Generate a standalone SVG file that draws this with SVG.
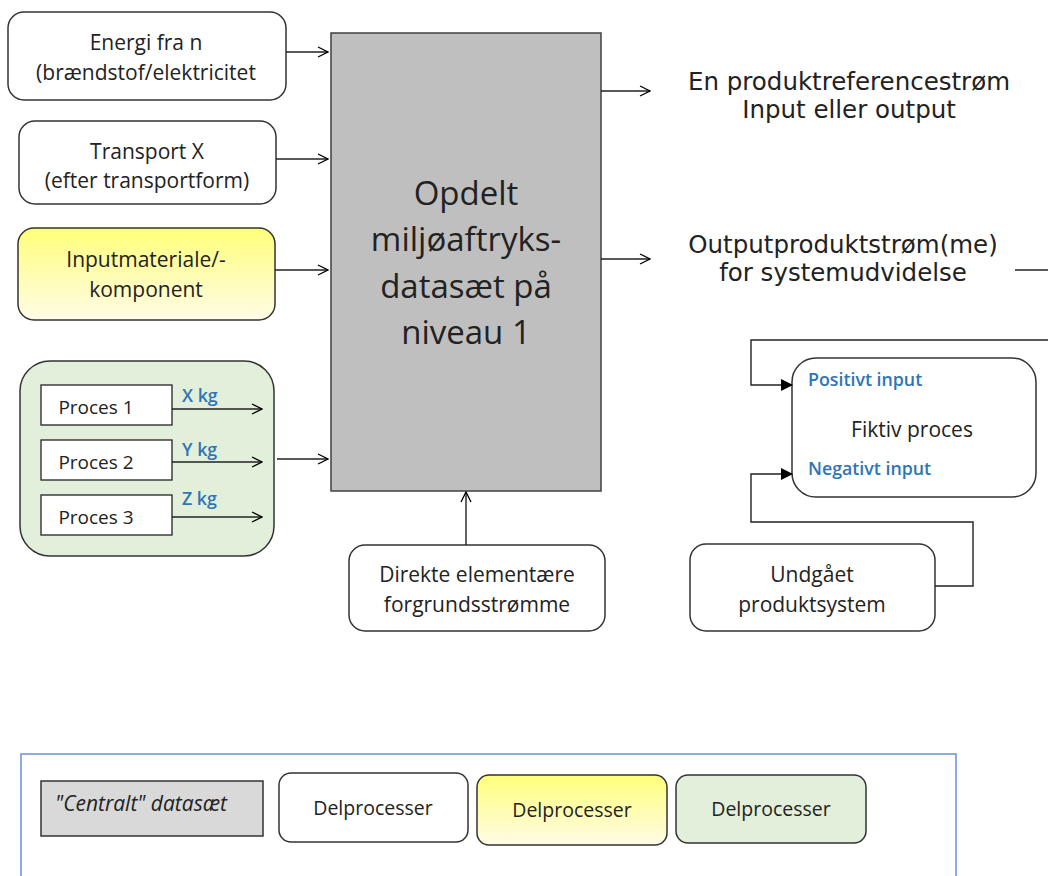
<svg xmlns="http://www.w3.org/2000/svg" width="1048" height="876" viewBox="0 0 1048 876">
<defs>
<linearGradient id="yel" x1="0" y1="0" x2="0" y2="1"><stop offset="0" stop-color="#ffff7a"/><stop offset="1" stop-color="#fffbe6"/></linearGradient>
<marker id="open" markerWidth="12" markerHeight="12" refX="11" refY="6" orient="auto" markerUnits="userSpaceOnUse"><path d="M1,1 L11,6 L1,11" fill="none" stroke="#000" stroke-width="1.3"/></marker>
<marker id="solid" markerWidth="12" markerHeight="12" refX="11" refY="6" orient="auto" markerUnits="userSpaceOnUse"><path d="M0,0 L12,6 L0,12 z" fill="#000"/></marker>
<style>
.box{fill:#fff;stroke:#333;stroke-width:1.5}
.t{font-family:"Open Sans","Liberation Sans",Arial,sans-serif;font-size:21px;fill:#222;text-anchor:middle}
.v{font-family:"DejaVu Sans",Verdana,sans-serif;font-size:24.5px;fill:#222;text-anchor:middle}
.b{font-family:"Open Sans","Liberation Sans",Arial,sans-serif;font-size:17.8px;font-weight:600;fill:#2e75b6}
.c{fill:none;stroke:#222;stroke-width:1.4}
</style>
</defs>
<rect width="1048" height="876" fill="#fff"/>
<g id="main"><rect x="331" y="33" width="270" height="458" fill="#bfbfbf" stroke="#404040" stroke-width="1.5"/>
<text class="t" style="font-size:33px" x="466" y="205">Opdelt</text>
<text class="t" style="font-size:33px" x="466" y="251">miljøaftryks-</text>
<text class="t" style="font-size:33px" x="466" y="298">datasæt på</text>
<text class="t" style="font-size:33px" x="466" y="344">niveau 1</text></g>
<g id="energi"><rect class="box" x="8" y="12" width="278" height="88" rx="16"/>
<text class="t" x="146" y="50">Energi fra n</text><text class="t" x="146" y="80">(brændstof/elektricitet</text></g>
<g id="transport"><rect class="box" x="19" y="121" width="257" height="83" rx="16"/>
<text class="t" x="147" y="159">Transport X</text><text class="t" x="147" y="188">(efter transportform)</text></g>
<g id="input"><rect x="18" y="228" width="257" height="92" rx="16" fill="url(#yel)" stroke="#333" stroke-width="1.5"/>
<text class="t" x="146" y="267">Inputmateriale/-</text><text class="t" x="146" y="297">komponent</text></g>
<g id="procgroup"><rect x="20" y="361" width="254" height="195" rx="30" fill="#e2efda" stroke="#333" stroke-width="1.5"/>
<rect x="41" y="385" width="131" height="40" fill="#fff" stroke="#333" stroke-width="1.4"/><text class="t" style="font-size:19px" x="96" y="414">Proces 1</text>
<rect x="41" y="440" width="131" height="40" fill="#fff" stroke="#333" stroke-width="1.4"/><text class="t" style="font-size:19px" x="96" y="469">Proces 2</text>
<rect x="41" y="495" width="131" height="40" fill="#fff" stroke="#333" stroke-width="1.4"/><text class="t" style="font-size:19px" x="96" y="524">Proces 3</text>
<text class="b" x="182" y="402">X kg</text><text class="b" x="182" y="456">Y kg</text><text class="b" x="182" y="505">Z kg</text></g>
<g id="direkte"><rect class="box" x="349" y="545" width="256" height="86" rx="16"/>
<text class="t" x="477" y="582">Direkte elementære</text><text class="t" x="477" y="612">forgrundsstrømme</text></g>
<g id="outtext"><text class="v" x="849" y="90">En produktreferencestrøm</text><text class="v" x="849" y="118">Input eller output</text>
<text class="v" x="843" y="253">Outputproduktstrøm(me)</text><text class="v" x="843" y="281">for systemudvidelse</text></g>
<g id="fiktiv"><rect class="box" x="792" y="358" width="244" height="139" rx="24"/>
<text class="b" x="808" y="386">Positivt input</text>
<text class="t" x="912" y="437">Fiktiv proces</text>
<text class="b" x="808" y="475">Negativt input</text></g>
<g id="undgaet"><rect class="box" x="690" y="544" width="245" height="87" rx="16"/>
<text class="t" x="812" y="582">Undgået</text><text class="t" x="812" y="612">produktsystem</text></g>
<g id="connectors">
<line class="c" x1="286" y1="52" x2="328" y2="52" marker-end="url(#open)"/>
<line class="c" x1="276" y1="159" x2="328" y2="159" marker-end="url(#open)"/>
<line class="c" x1="275" y1="270" x2="328" y2="270" marker-end="url(#open)"/>
<line class="c" x1="277" y1="459" x2="328" y2="459" marker-end="url(#open)"/>
<line class="c" x1="172" y1="409" x2="262" y2="409" marker-end="url(#open)"/>
<line class="c" x1="172" y1="462" x2="262" y2="462" marker-end="url(#open)"/>
<line class="c" x1="172" y1="517" x2="262" y2="517" marker-end="url(#open)"/>
<line class="c" x1="601" y1="91" x2="650" y2="91" marker-end="url(#open)"/>
<line class="c" x1="601" y1="259" x2="650" y2="259" marker-end="url(#open)"/>
<line class="c" x1="466" y1="545" x2="466" y2="492" marker-end="url(#open)"/>
<line class="c" x1="1015" y1="270" x2="1048" y2="270"/>
<path class="c" d="M1048,340 H751 V385 H792" marker-end="url(#solid)"/>
<path class="c" d="M935,586 H973 V522 H751 V474 H792" marker-end="url(#solid)"/>
</g>
<g id="legend"><rect x="21" y="754" width="935" height="140" fill="#fff" stroke="#6a8fd8" stroke-width="1.5"/>
<rect x="41" y="781" width="222" height="55" fill="#d9d9d9" stroke="#333" stroke-width="1.5"/>
<text class="t" style="font-style:italic;font-size:21px" x="141" y="811">"Centralt" datasæt</text>
<rect class="box" x="279" y="773" width="189" height="69" rx="12"/><text class="t" style="font-size:19.5px" x="373" y="815">Delprocesser</text>
<rect x="477" y="775" width="190" height="70" rx="12" fill="url(#yel)" stroke="#333" stroke-width="1.5"/><text class="t" style="font-size:19.5px" x="572" y="817">Delprocesser</text>
<rect x="676" y="775" width="190" height="68" rx="12" fill="#e2efda" stroke="#333" stroke-width="1.5"/><text class="t" style="font-size:19.5px" x="771" y="816">Delprocesser</text></g>
</svg>
